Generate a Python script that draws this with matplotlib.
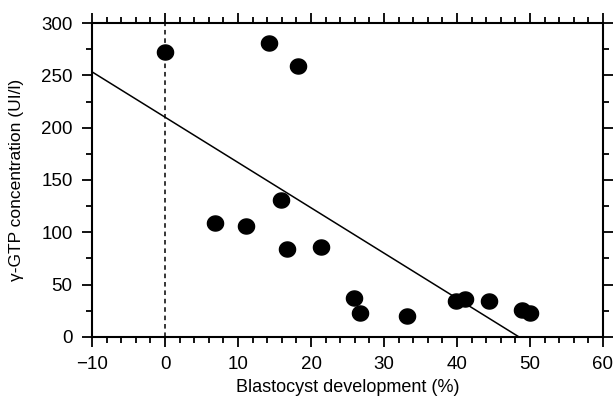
import matplotlib.pyplot as plt
import numpy as np
from matplotlib.path import Path
from matplotlib.ticker import MultipleLocator

plt.rcParams['font.family'] = ['Liberation Sans', 'DejaVu Sans']

# values
blastocyst = [0.0, 14.2, 18.2, 6.9, 11.1, 15.9, 16.7, 21.3, 25.9, 26.7,
              33.2, 39.9, 41.1, 44.4, 48.9, 50.0]
ggtp = [272, 281, 259, 109, 106, 131, 84, 86, 37, 23,
        20, 34, 36, 34, 26, 23]

# regression line as it appears in the figure
intercept = 210.0
slope = -4.33

# slightly wide ellipse marker
t = np.linspace(0, 2 * np.pi, 60)
ellipse = Path(np.column_stack([1.07 * np.cos(t), np.sin(t)]), closed=True)

fig = plt.figure(figsize=(6.14, 4.04), dpi=100)
ax = fig.add_axes([0.150, 0.166, 0.832, 0.777])

ax.scatter(blastocyst, ggtp, s=135, marker=ellipse, color='black', zorder=3)

xs = np.array([-10, 60])
ax.plot(xs, intercept + slope * xs, color='black', lw=1.1)
ax.axvline(0, color='black', lw=1.1, ls=(0, (3, 2.5)))

ax.set_xlim(-10, 60)
ax.set_ylim(0, 300)
ax.xaxis.set_major_locator(MultipleLocator(10))
ax.xaxis.set_minor_locator(MultipleLocator(2))
ax.yaxis.set_major_locator(MultipleLocator(50))
ax.yaxis.set_minor_locator(MultipleLocator(25))

ax.tick_params(which='both', direction='out', top=True, right=True,
               labeltop=False, labelright=False, width=1.3, colors='black')
ax.tick_params(which='major', length=7, labelsize=13.5, pad=7)
ax.tick_params(which='minor', length=4)
for s in ax.spines.values():
    s.set_linewidth(1.5)

ax.set_xlabel('Blastocyst development (%)', fontsize=13, labelpad=4)
ax.set_ylabel('γ-GTP concentration (UI/l)', fontsize=12.5, labelpad=12)

fig.savefig('out.png', dpi=100)
